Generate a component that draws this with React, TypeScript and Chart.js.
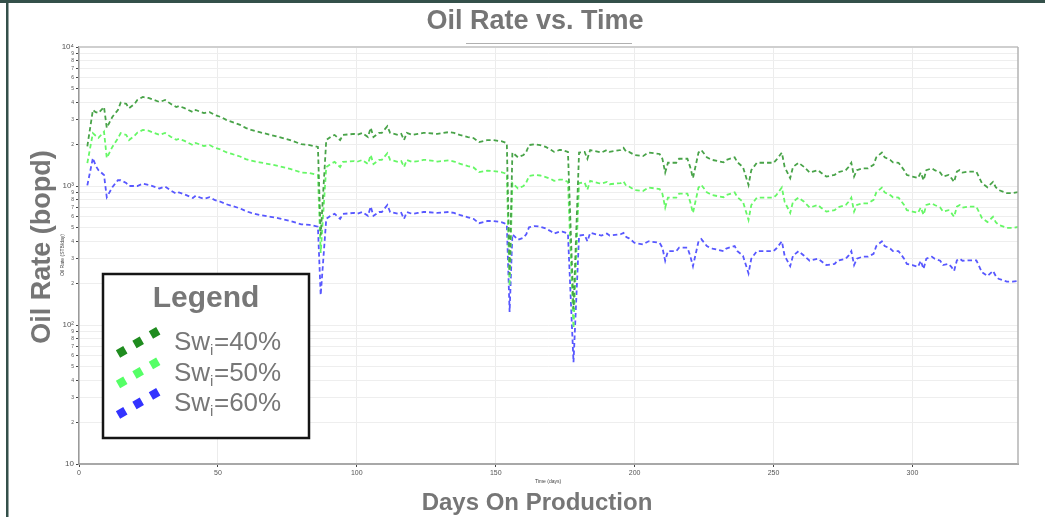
import React, { useEffect, useRef } from 'react';
import { Chart, registerables } from 'chart.js';

Chart.register(...registerables);

const FONT = "'Liberation Sans', Arial, Helvetica, sans-serif";

const chartTitle = 'Oil Rate vs. Time';
const xAxisTitle = 'Days On Production';
const yAxisTitle = 'Oil Rate (bopd)';
const innerXTitle = 'Time (days)';
const innerYTitle = 'Oil Rate (STB/day)';
const legendTitle = 'Legend';

const seriesLabels = ['Swi=40%', 'Swi=50%', 'Swi=60%'];
const lineColors = ['#48a348', '#66f766', '#5858ff'];
const legendColors = ['#1f8c1f', '#55ff66', '#3333ff'];

const xTickValues = [0, 50, 100, 150, 200, 250, 300];
const yTickValues = [
  10, 20, 30, 40, 50, 60, 70, 80, 90,
  100, 200, 300, 400, 500, 600, 700, 800, 900,
  1000, 2000, 3000, 4000, 5000, 6000, 7000, 8000, 9000,
  10000,
];

const days = [
  3, 5, 6, 7, 9, 10, 12, 14, 15, 17,
  18, 20, 21, 23, 25, 27, 29, 31, 33, 35,
  36, 38, 41, 42, 44, 45, 47, 49, 51, 53,
  55, 58, 60, 62, 65, 69, 72, 76, 80, 83,
  86, 87, 89, 91, 92, 94, 95, 99, 100, 102,
  104, 105, 106, 108, 109, 111, 112, 115, 116, 117,
  118, 120, 122, 124, 125, 129, 133, 135, 137, 140,
  142, 144, 147, 149, 152, 153, 154, 155, 156, 158,
  160, 161, 162, 164, 166, 168, 170, 171, 173, 174,
  176, 178, 180, 182, 183, 184, 187, 188, 190, 191,
  195, 196, 197, 198, 200, 203, 205, 209, 210, 211,
  212, 215, 216, 219, 220, 221, 223, 224, 226, 227,
  228, 232, 233, 236, 237, 239, 241, 242, 244, 245,
  250, 251, 253, 254, 256, 257, 259, 261, 263, 266,
  267, 269, 272, 273, 276, 277, 278, 279, 280, 282,
  284, 286, 287, 289, 290, 292, 293, 295, 297, 298,
  300, 302, 303, 304, 305, 307, 308, 310, 311, 313,
  314, 315, 316, 317, 318, 320, 321, 323, 325, 327,
  329, 330, 331, 334, 336, 338,
];

const swi40 = [
  1930, 3520, 3400, 3350, 3700, 2620, 3140, 3520, 3980, 3900,
  3630, 3900, 4160, 4370, 4300, 4160, 4020, 4160, 3900, 3700,
  3760, 3630, 3400, 3520, 3400, 3350, 3400, 3240, 3140, 2990,
  2890, 2750, 2620, 2530, 2440, 2330, 2250, 2140, 2000, 1970,
  1910, 440, 2140, 2290, 2330, 2140, 2330, 2370, 2330, 2410,
  2250, 2620, 2250, 2410, 2410, 2690, 2410, 2330, 2370, 2140,
  2410, 2330, 2370, 2410, 2410, 2370, 2440, 2410, 2330, 2250,
  2210, 2070, 2140, 2140, 2100, 2070, 2030, 230, 1740, 1610,
  1670, 1760, 1970, 2000, 1970, 1910, 1815, 1760, 1815, 1815,
  1760, 130, 1740, 1760, 1570, 1815, 1760, 1740, 1815, 1760,
  1815, 1880, 1760, 1760, 1670, 1640, 1740, 1700, 1570, 1250,
  1470, 1470, 1570, 1570, 1370, 1140, 1740, 1815, 1610, 1570,
  1540, 1480, 1540, 1610, 1480, 1370, 1016, 1300, 1470, 1470,
  1470, 1540, 1740, 1370, 1140, 1370, 1470, 1370, 1250, 1300,
  1250, 1170, 1200, 1250, 1300, 1370, 1470, 1170, 1300, 1340,
  1340, 1420, 1610, 1740, 1610, 1540, 1480, 1470, 1300, 1200,
  1170, 1140, 1250, 1100, 1300, 1340, 1300, 1250, 1170, 1200,
  1140, 1070, 1270, 1300, 1250, 1270, 1270, 1270, 1050, 980,
  1070, 980, 936, 890, 890, 905,
];

const swi50 = [
  1460, 2400, 2300, 2220, 2460, 1590, 1910, 2200, 2400, 2330,
  2140, 2300, 2420, 2530, 2500, 2410, 2330, 2410, 2260, 2150,
  2180, 2110, 1970, 2040, 1970, 1940, 1970, 1880, 1830, 1750,
  1700, 1630, 1560, 1520, 1480, 1430, 1390, 1330, 1250, 1240,
  1200, 330, 1370, 1460, 1490, 1370, 1490, 1510, 1490, 1540,
  1440, 1670, 1440, 1540, 1540, 1720, 1540, 1490, 1510, 1370,
  1540, 1490, 1510, 1540, 1540, 1500, 1530, 1500, 1450, 1390,
  1360, 1260, 1290, 1280, 1260, 1240, 1220, 190, 1050, 960,
  1000, 1060, 1180, 1200, 1190, 1160, 1120, 1090, 1110, 1110,
  1070, 95, 1050, 1060, 940, 1090, 1050, 1040, 1070, 1030,
  1050, 1080, 1000, 990, 935, 920, 975, 950, 880, 700,
  825, 825, 880, 880, 770, 640, 975, 1020, 900, 880,
  860, 830, 860, 900, 830, 770, 570, 730, 825, 825,
  825, 860, 975, 770, 640, 770, 825, 770, 700, 730,
  700, 655, 670, 700, 730, 770, 825, 655, 730, 750,
  750, 795, 900, 975, 900, 860, 830, 825, 730, 670,
  655, 640, 700, 620, 730, 750, 730, 700, 655, 670,
  640, 600, 710, 730, 700, 710, 710, 710, 590, 550,
  600, 550, 525, 500, 500, 507,
];

const swi60 = [
  1010, 1590, 1400, 1300, 1200, 830, 980, 1100, 1100, 1050,
  1000, 1000, 1000, 1040, 1020, 990, 960, 990, 930, 880,
  900, 870, 820, 850, 820, 810, 830, 790, 770, 740,
  720, 690, 660, 640, 620, 600, 585, 560, 530, 525,
  510, 164, 580, 620, 630, 580, 630, 640, 630, 650,
  610, 710, 610, 650, 650, 730, 650, 630, 640, 580,
  650, 630, 640, 650, 650, 640, 650, 640, 620, 595,
  580, 540, 560, 560, 550, 540, 530, 124, 450, 410,
  425, 450, 505, 515, 510, 495, 470, 455, 470, 470,
  455, 54, 440, 445, 400, 460, 445, 440, 455, 440,
  450, 460, 430, 420, 390, 380, 400, 390, 360, 290,
  340, 340, 360, 360, 315, 265, 400, 415, 370, 360,
  355, 340, 355, 370, 340, 315, 235, 300, 340, 340,
  340, 355, 400, 315, 265, 315, 340, 315, 290, 300,
  290, 270, 275, 290, 300, 315, 340, 270, 300, 310,
  310, 325, 370, 400, 370, 355, 340, 340, 300, 275,
  270, 262, 290, 253, 300, 310, 300, 290, 270, 275,
  262, 245, 292, 300, 290, 292, 292, 292, 240, 225,
  245, 225, 215, 205, 205, 207,
];

const seriesValues = [swi40, swi50, swi60];

const superscripts: Record<string, string> = { '2': '\u00B2', '3': '\u00B3', '4': '\u2074' };

function isDecade(v: number): boolean {
  const e = Math.round(Math.log10(v));
  return Math.abs(v - Math.pow(10, e)) < 1e-6;
}

function yLabel(v: number): string {
  if (isDecade(v)) {
    const e = Math.round(Math.log10(v));
    if (e === 1) return '10';
    return '10' + (superscripts[String(e)] || '');
  }
  return String(Math.round(v / Math.pow(10, Math.floor(Math.log10(v) + 1e-9))));
}

const decorPlugin = {
  id: 'decor',
  beforeDraw(chart: any) {
    const ctx = chart.ctx;
    ctx.save();
    ctx.fillStyle = '#ffffff';
    ctx.fillRect(0, 0, chart.width, chart.height);
    ctx.restore();
  },
  afterDraw(chart: any) {
    const ctx: CanvasRenderingContext2D = chart.ctx;
    const a = chart.chartArea;
    ctx.save();
    // plot frame (top + right)
    ctx.strokeStyle = '#cfcfcf';
    ctx.lineWidth = 2;
    ctx.beginPath();
    ctx.moveTo(a.left, a.top);
    ctx.lineTo(a.right, a.top);
    ctx.stroke();
    ctx.strokeStyle = '#b3b3b3';
    ctx.lineWidth = 1.5;
    ctx.beginPath();
    ctx.moveTo(a.right, a.top);
    ctx.lineTo(a.right, a.bottom);
    ctx.stroke();

    // slide frame
    ctx.fillStyle = '#34504a';
    ctx.fillRect(0, 0, chart.width, 3);
    ctx.fillRect(6, 0, 2.5, chart.height);

    // titles
    ctx.fillStyle = '#767676';
    ctx.textAlign = 'center';
    ctx.textBaseline = 'alphabetic';
    ctx.font = `bold 27px ${FONT}`;
    ctx.fillText(chartTitle, 535, 29);
    ctx.strokeStyle = '#b0b0b0';
    ctx.lineWidth = 1;
    ctx.beginPath();
    ctx.moveTo(466, 43.5);
    ctx.lineTo(632, 43.5);
    ctx.stroke();

    ctx.font = `bold 24px ${FONT}`;
    ctx.fillText(xAxisTitle, 537, 510);

    ctx.save();
    ctx.translate(50, 247);
    ctx.rotate(-Math.PI / 2);
    ctx.font = `bold 27px ${FONT}`;
    ctx.fillText(yAxisTitle, 0, 0);
    ctx.restore();

    // tiny inner axis titles
    ctx.fillStyle = '#444';
    ctx.font = `5px ${FONT}`;
    ctx.fillText(innerXTitle, 548, 483);
    ctx.save();
    ctx.translate(64, 255);
    ctx.rotate(-Math.PI / 2);
    ctx.fillText(innerYTitle, 0, 0);
    ctx.restore();

    // legend box
    const bx = 103, by = 274, bw = 206, bh = 164;
    ctx.fillStyle = '#ffffff';
    ctx.fillRect(bx, by, bw, bh);
    ctx.strokeStyle = '#151515';
    ctx.lineWidth = 2.5;
    ctx.strokeRect(bx, by, bw, bh);

    ctx.fillStyle = '#777777';
    ctx.textAlign = 'center';
    ctx.font = `bold 30px ${FONT}`;
    ctx.fillText(legendTitle, bx + bw / 2, 307);

    const baselines = [350, 380.5, 411];
    seriesLabels.forEach((label, i) => {
      const base = baselines[i];
      // marker: three rotated squares along a rising diagonal
      ctx.save();
      ctx.strokeStyle = legendColors[i];
      ctx.lineWidth = 8.5;
      ctx.lineCap = 'butt';
      ctx.setLineDash([8.5, 10.5]);
      const ux = Math.cos(-Math.PI / 6), uy = Math.sin(-Math.PI / 6);
      const sx = 118, sy = base + 4;
      ctx.beginPath();
      ctx.moveTo(sx, sy);
      ctx.lineTo(sx + ux * 47, sy + uy * 47);
      ctx.stroke();
      ctx.restore();

      // text Sw_i=xx%
      const prefix = label.slice(0, 2);
      const sub = label.slice(2, 3);
      const rest = label.slice(3);
      ctx.fillStyle = '#777777';
      ctx.textAlign = 'left';
      let x = 174;
      ctx.font = `26px ${FONT}`;
      ctx.fillText(prefix, x, base);
      x += ctx.measureText(prefix).width;
      ctx.font = `15px ${FONT}`;
      ctx.fillText(sub, x, base + 5);
      x += ctx.measureText(sub).width + 0.5;
      ctx.font = `26px ${FONT}`;
      ctx.fillText(rest, x, base);
    });

    ctx.restore();
  },
};

export default function App() {
  const ref = useRef<HTMLCanvasElement>(null);

  useEffect(() => {
    const canvas = ref.current;
    if (!canvas) return;
    const datasets = seriesValues.map((vals, i) => ({
      label: seriesLabels[i],
      data: days.map((d, j) => ({ x: d, y: vals[j] })),
      borderColor: lineColors[i],
      backgroundColor: lineColors[i],
      borderWidth: 1.8,
      borderDash: [4.5, 3],
      pointRadius: 0,
      tension: 0,
      fill: false,
    }));

    const chart = new Chart(canvas, {
      type: 'line',
      data: { datasets },
      plugins: [decorPlugin],
      options: {
        responsive: false,
        animation: false,
        devicePixelRatio: 1,
        layout: { padding: { left: 0, top: 47, right: 27, bottom: 0 } },
        plugins: {
          legend: { display: false },
          title: { display: false },
          tooltip: { enabled: false },
        },
        scales: {
          x: {
            type: 'linear',
            min: 0,
            max: 338,
            afterBuildTicks: (scale: any) => {
              scale.ticks = xTickValues.map((v) => ({ value: v }));
            },
            afterFit: (scale: any) => {
              scale.height = 53;
              scale.paddingLeft = 0;
              scale.paddingRight = 0;
            },
            ticks: {
              autoSkip: false,
              maxRotation: 0,
              padding: 2,
              color: '#555',
              font: { family: FONT, size: 7 },
            },
            grid: {
              color: '#ececec',
              lineWidth: 1,
              tickLength: 3,
              tickColor: '#444',
            },
            border: { color: '#a8a8a8', width: 2 },
          },
          y: {
            type: 'logarithmic',
            min: 10,
            max: 10000,
            afterBuildTicks: (scale: any) => {
              scale.ticks = yTickValues.map((v) => ({ value: v, major: isDecade(v) }));
            },
            afterFit: (scale: any) => {
              scale.width = 79;
              scale.paddingTop = 0;
              scale.paddingBottom = 0;
            },
            ticks: {
              autoSkip: false,
              padding: 2,
              color: '#555',
              callback: (v: any) => yLabel(Number(v)),
              font: (ctx: any) =>
                ctx.tick && isDecade(ctx.tick.value)
                  ? { family: FONT, size: 8 }
                  : { family: FONT, size: 5 },
            },
            grid: {
              color: '#eeeeee',
              lineWidth: 1,
              tickLength: 3,
              tickColor: '#444',
            },
            border: { color: '#9a9a9a', width: 1.5 },
          },
        },
      },
    } as any);

    return () => chart.destroy();
  }, []);

  return (
    <div style={{ position: 'fixed', left: 0, top: 0, width: 1045, height: 517, background: '#fff' }}>
      <canvas ref={ref} width={1045} height={517} style={{ display: 'block', width: 1045, height: 517 }} />
    </div>
  );
}
